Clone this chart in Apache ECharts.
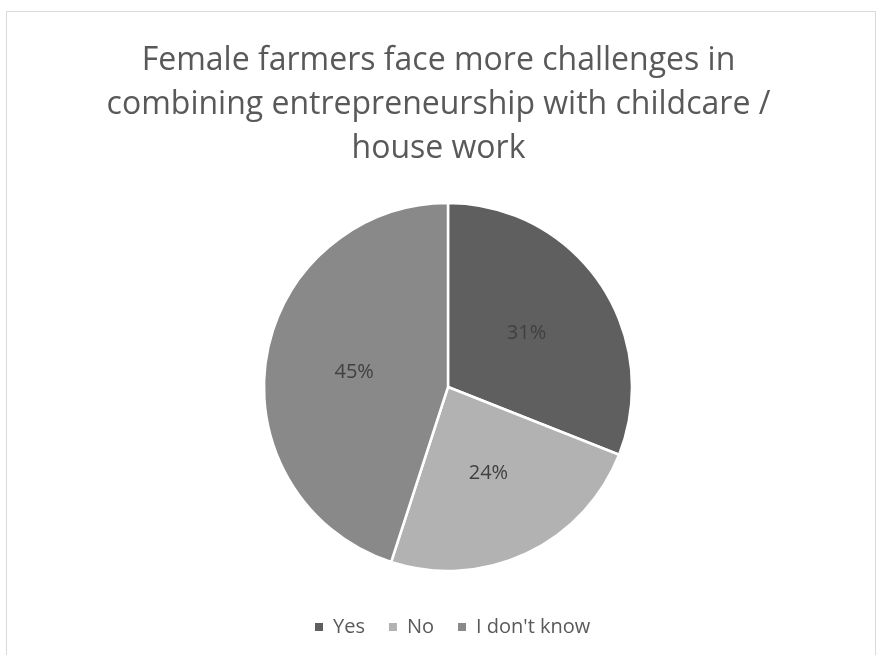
<!DOCTYPE html>
<html>
<head>
<meta charset="utf-8">
<script src="https://cdn.jsdelivr.net/npm/echarts@6/dist/echarts.min.js"></script>
<style>
  html, body { margin: 0; padding: 0; background: #fff; }
  #main { width: 877px; height: 655px; }
</style>
</head>
<body>
<div id="main"></div>
<script>
var titleText = 'Female farmers face more challenges in\ncombining entrepreneurship with childcare /\nhouse work';
var answers = ['Yes', 'No', "I don't know"];
var shares = [31, 24, 45];
var sliceColors = ['#5f5f5f', '#b2b2b2', '#898989'];

var pieData = [];
for (var i = 0; i < answers.length; i++) {
    pieData.push({ name: answers[i], value: shares[i], itemStyle: { color: sliceColors[i] } });
}

var myChart = echarts.init(document.getElementById('main'));
var option = {
    backgroundColor: '#fff',
    graphic: [{
        type: 'rect',
        shape: { x: 6.5, y: 11.5, width: 869, height: 660 },
        style: { fill: 'none', stroke: '#d9d9d9', lineWidth: 1 },
        silent: true
    }],
    title: {
        text: titleText,
        left: 'center',
        top: 34,
        textStyle: {
            fontFamily: 'Open Sans',
            fontWeight: 'normal',
            fontSize: 32,
            color: '#595959',
            lineHeight: 44
        }
    },
    legend: {
        top: 612,
        left: 308,
        icon: 'rect',
        itemWidth: 10,
        itemHeight: 10,
        itemGap: 22,
        textStyle: { fontFamily: 'Open Sans', fontSize: 20, color: '#595959', padding: [0, 0, 0, 4] },
        data: answers
    },
    series: [{
        type: 'pie',
        center: [448, 387],
        radius: [0, 184],
        startAngle: 90,
        clockwise: true,
        animation: false,
        itemStyle: { borderColor: '#fff', borderWidth: 2.5 },
        label: {
            show: true,
            position: 'inside',
            formatter: '{c}%',
            fontFamily: 'Open Sans',
            fontSize: 20,
            color: '#404040'
        },
        labelLine: { show: false },
        data: pieData
    }]
};
myChart.setOption(option);
</script>
</body>
</html>
